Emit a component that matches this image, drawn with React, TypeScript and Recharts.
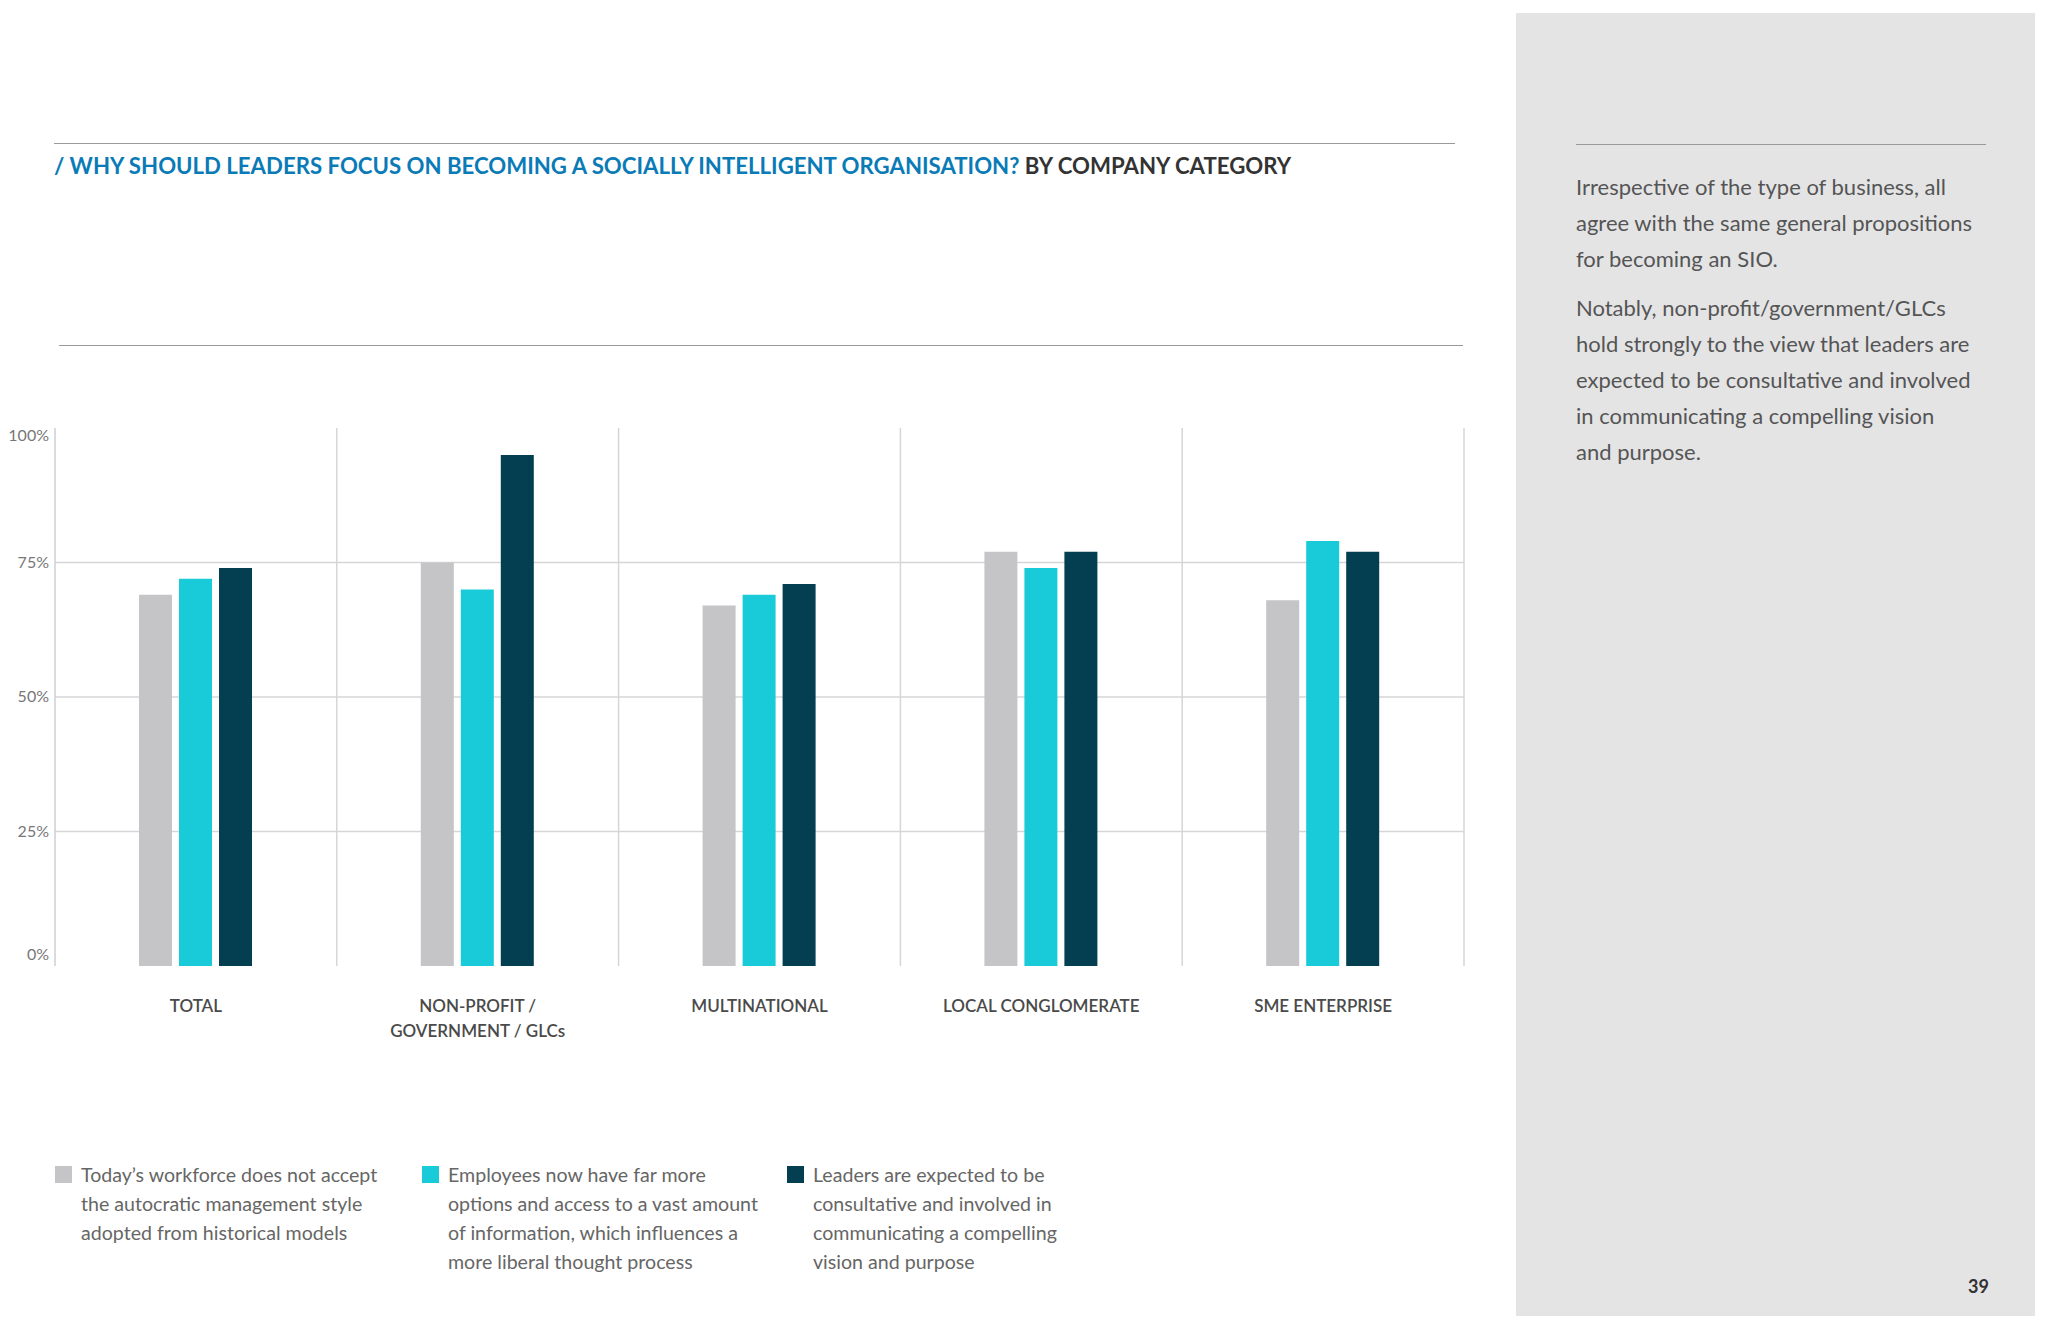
import React from "react";
import { BarChart, Bar, XAxis, YAxis, CartesianGrid } from "recharts";

const categories = ["TOTAL", "NON-PROFIT /\nGOVERNMENT / GLCs", "MULTINATIONAL", "LOCAL CONGLOMERATE", "SME ENTERPRISE"];
const workforceValues = [69, 75, 67, 77, 68];
const employeesValues = [72, 70, 69, 74, 79];
const leadersValues = [74, 95, 71, 77, 77];
const yTicks = [0, 25, 50, 75, 100];
const gridValues = [25, 50, 75];

const seriesNames = [
  "Today\u2019s workforce does not accept\nthe autocratic management style\nadopted from historical models",
  "Employees now have far more\noptions and access to a vast amount\nof information, which influences a\nmore liberal thought process",
  "Leaders are expected to be\nconsultative and involved in\ncommunicating a compelling\nvision and purpose",
];
const seriesKeys = ["workforce", "employees", "leaders"];
const seriesColors = ["#c5c4c7", "#19cbd8", "#033f51"];

const paragraphs = [
  "Irrespective of the type of business, all\nagree with the same general propositions\nfor becoming an SIO.",
  "Notably, non-profit/government/GLCs\nhold strongly to the view that leaders are\nexpected to be consultative and involved\nin communicating a compelling vision\nand purpose.",
];

const data = categories.map((name, i) => ({
  name,
  workforce: workforceValues[i],
  employees: employeesValues[i],
  leaders: leadersValues[i],
}));

const font = "Lato, 'Noto Sans', sans-serif";

const XTick = (props: any) => {
  const { x, y, payload } = props;
  const lines = String(payload.value).split("\n");
  return (
    <text x={x} y={y + 38} textAnchor="middle" fill="#4a4a4a" fontSize={17} fontWeight={600} fontFamily={font}>
      {lines.map((l, i) => (
        <tspan key={i} x={x} dy={i === 0 ? 0 : 25}>
          {l}
        </tspan>
      ))}
    </text>
  );
};

const YTick = (props: any) => {
  const { x, y, payload } = props;
  const shift = payload.value === 100 ? 9 : payload.value === 0 ? -10 : 1;
  return (
    <text x={x + 2} y={y + shift} textAnchor="end" dominantBaseline="middle" fill="#777" fontSize={16} fontFamily={font}>
      {payload.value}%
    </text>
  );
};

export default function App() {
  return (
    <div style={{ position: "absolute", left: 0, top: 0, width: 2048, height: 1331, background: "#fff", fontFamily: font, overflow: "hidden" }}>
      {/* title block */}
      <div style={{ position: "absolute", left: 54, top: 143, width: 1401, borderTop: "1.5px solid #9a9a9a" }} />
      <div style={{ position: "absolute", left: 54, top: 152, fontSize: 22.2, fontWeight: 700, whiteSpace: "nowrap", lineHeight: "28px" }}>
        <span style={{ color: "#0a7bb6" }}>/ WHY SHOULD LEADERS FOCUS ON BECOMING A SOCIALLY INTELLIGENT ORGANISATION?</span>
        <span style={{ color: "#333" }}> BY COMPANY CATEGORY</span>
      </div>
      <div style={{ position: "absolute", left: 59, top: 345, width: 1404, borderTop: "1.5px solid #9a9a9a" }} />

      <div style={{ position: "absolute", left: 0, top: 380 }}>
        <BarChart width={1480} height={696} data={data} margin={{ top: 48, right: 16, left: 0, bottom: 30 }} barSize={33} barGap={7}>
          <CartesianGrid
            stroke="#d6d6d9"
            strokeWidth={1.5}
            horizontalValues={gridValues}
            verticalCoordinatesGenerator={({ offset }: any) =>
              categories.map((_, i) => offset.left + (offset.width * (i + 1)) / categories.length)
            }
          />
          <XAxis dataKey="name" axisLine={false} tickLine={false} tick={<XTick />} height={80} interval={0} />
          <YAxis
            width={55}
            domain={[0, 100]}
            ticks={yTicks}
            tick={<YTick />}
            tickLine={false}
            axisLine={{ stroke: "#cfcfd2", strokeWidth: 1.5 }}
          />
          {seriesKeys.map((k, i) => (
            <Bar key={k} dataKey={k} fill={seriesColors[i]} isAnimationActive={false} />
          ))}
        </BarChart>
      </div>

      {/* legend */}
      {seriesNames.map((s, i) => {
        const left = [55, 422, 787][i];
        return (
          <div key={i} style={{ position: "absolute", left, top: 1160 }}>
            <div style={{ position: "absolute", left: 0, top: 6, width: 17, height: 17, background: seriesColors[i] }} />
            <div style={{ position: "absolute", left: 26, top: 0, fontSize: 19.6, lineHeight: "29px", color: "#666", whiteSpace: "pre" }}>{s}</div>
          </div>
        );
      })}

      {/* side panel */}
      <div style={{ position: "absolute", left: 1516, top: 13, width: 519, height: 1303, background: "#e4e4e5" }}>
        <div style={{ position: "absolute", left: 60, top: 131, width: 410, borderTop: "1.5px solid #9a9a9a" }} />
        <div style={{ position: "absolute", left: 60, top: 156, fontSize: 22, lineHeight: "36px", color: "#555", whiteSpace: "pre" }}>
          {paragraphs.map((p, i) => (
            <div key={i} style={{ marginBottom: 13 }}>{p}</div>
          ))}
        </div>
        <div style={{ position: "absolute", left: 452, top: 1262, fontSize: 18, fontWeight: 700, color: "#333" }}>39</div>
      </div>
    </div>
  );
}
